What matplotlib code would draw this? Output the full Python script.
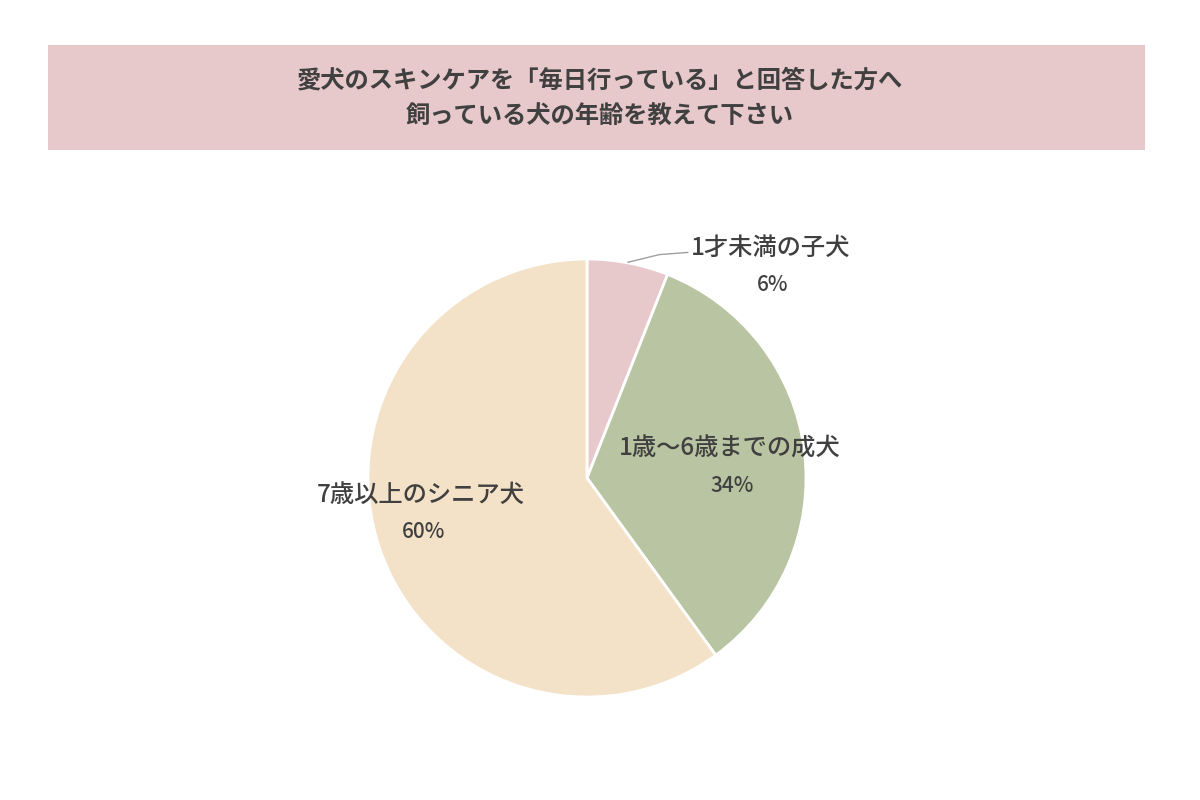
import matplotlib.pyplot as plt
from matplotlib.patches import Rectangle

plt.rcParams['font.family'] = ['Noto Sans CJK JP', 'DejaVu Sans']

# data
categories = ['1才未満の子犬', '1歳～6歳までの成犬', '7歳以上のシニア犬']
values = [6, 34, 60]
colors = ['#E8C9CB', '#B9C4A2', '#F3E2C7']
title_lines = ['愛犬のスキンケアを「毎日行っている」と回答した方へ', '飼っている犬の年齢を教えて下さい']

text_color = '#404040'

fig = plt.figure(figsize=(12, 8), dpi=100)
fig.patch.set_facecolor('white')

# title band
fig.patches.append(Rectangle((48 / 1200, 1 - 150 / 800), (1145 - 48) / 1200, 105 / 800,
                             transform=fig.transFigure, facecolor='#E8C9CB', edgecolor='none'))
fig.text(0.5, 1 - 80 / 800, title_lines[0], ha='center', va='center', fontsize=17.5,
         fontweight='bold', color=text_color)
fig.text(0.5, 1 - 116 / 800, title_lines[1], ha='center', va='center', fontsize=17.5,
         fontweight='bold', color=text_color)

# pie
ax = fig.add_axes([(587 - 219) / 1200, (800 - 478 - 219) / 800, 438 / 1200, 438 / 800])
wedges, _ = ax.pie(values, colors=colors, startangle=90, counterclock=False,
                   wedgeprops=dict(edgecolor='white', linewidth=2))
ax.set_xlim(-1, 1)
ax.set_ylim(-1, 1)
ax.set_aspect('equal')

# labels
label_pos = [(0.836, 1.05), (0.653, 0.132), (-0.758, -0.078)]
for cat, val, (x, y) in zip(categories, values, label_pos):
    ax.text(x, y, cat, ha='center', va='center', fontsize=17.5, fontweight='medium',
            color=text_color, clip_on=False)
    ax.text(x + 0.01, y - 0.17, f'{val}%', ha='center', va='center', fontsize=15,
            fontweight='medium', color=text_color, clip_on=False)

# leader line for small slice
ax.plot([0.187, 0.33, 0.46], [0.985, 1.02, 1.03], color='#A0A0A0', linewidth=1, clip_on=False)

fig.savefig('out.png', dpi=100)
